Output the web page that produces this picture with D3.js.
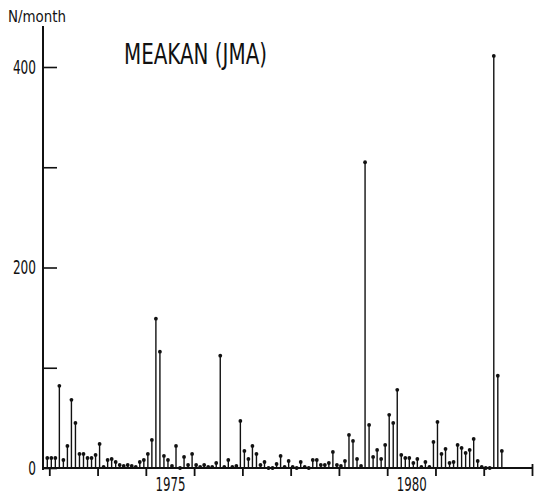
<!DOCTYPE html>
<html>
<head>
<meta charset="utf-8">
<script src="https://cdn.jsdelivr.net/npm/d3@7"></script>
<style>
  html, body { margin: 0; padding: 0; background: #fff; }
  svg { display: block; }
  text { font-family: "Liberation Sans Narrow", "DejaVu Sans Condensed", "Roboto Condensed", "Liberation Sans", sans-serif; fill: #111; }
</style>
</head>
<body>
<svg id="chart" width="539" height="495"></svg>
<script>
// ---- data (monthly counts, starting December 1972) ----
const startYear = 1972;
const startMonth = 12; // December
const counts = [
  10, 10, 10, 82, 8, 22, 68, 45, 14, 14, 10, 10,
  13, 24, 1, 8, 9, 6, 3, 2, 3, 2, 1, 6,
  8, 14, 28, 149, 116, 12, 8, 2, 22, 0, 11, 3,
  14, 3, 1, 3, 1, 1, 5, 112, 1, 8, 1, 2,
  47, 17, 9, 22, 14, 3, 6, 0, 0, 4, 12, 1,
  7, 1, 0, 6, 1, 0, 8, 8, 3, 3, 5, 16,
  3, 2, 7, 33, 27, 9, 2, 305, 43, 11, 18, 9,
  23, 53, 45, 78, 13, 10, 10, 5, 9, 1, 6, 1,
  26, 46, 14, 19, 5, 6, 23, 20, 15, 18, 29, 7,
  1, 0, 0, 411, 92, 17
];
const yearTicks = [1973, 1974, 1975, 1976, 1977, 1978, 1979, 1980, 1981, 1982, 1983];
const yearLabels = [1975, 1980];
const yTicks = [0, 100, 200, 300, 400];
const yLabels = [0, 200, 400];
const title = "MEAKAN (JMA)";
const yUnit = "N/month";

// ---- build records ----
const data = counts.map((v, i) => {
  const m = (startMonth - 1) + i;
  const yr = startYear + Math.floor(m / 12);
  const mo = m % 12;
  return { t: yr + (mo + 0.5) / 12, v };
});

const svg = d3.select("#chart");
const x = d3.scaleLinear().domain([1973, 1983]).range([49.3, 532]);
const y = d3.scaleLinear().domain([0, 400]).range([468, 67]);
const axisX = 43;

// y axis
const yAxis = d3.axisLeft(y)
  .tickValues(yTicks)
  .tickSizeInner(-14)
  .tickSizeOuter(0)
  .tickPadding(7)
  .tickFormat(d => yLabels.includes(d) ? d : "");
const gy = svg.append("g").attr("transform", `translate(${axisX},0)`).call(yAxis);
gy.select(".domain").remove();
gy.selectAll(".tick line").attr("stroke", "#111").attr("stroke-width", 1.6);
gy.selectAll(".tick text")
  .style("font-size", "19px")
  .attr("textLength", d => String(d).length * 7.7)
  .attr("lengthAdjust", "spacingAndGlyphs");
svg.append("line")
  .attr("x1", axisX).attr("x2", axisX)
  .attr("y1", y(441)).attr("y2", y(-2))
  .attr("stroke", "#111").attr("stroke-width", 2);

// x baseline and year ticks
svg.append("line")
  .attr("x1", axisX).attr("x2", x(1983))
  .attr("y1", y(0)).attr("y2", y(0))
  .attr("stroke", "#111").attr("stroke-width", 2);
const xAxis = d3.axisBottom(x).tickValues(yearTicks).tickSize(8).tickFormat("");
const gx = svg.append("g").attr("transform", `translate(0,${y(0)})`).call(xAxis);
gx.select(".domain").remove();
gx.selectAll(".tick line").attr("stroke", "#111").attr("stroke-width", 1.8);
gx.selectAll(".tick").filter(d => d === 1983).select("line").attr("y1", -4);

const xLab = d3.axisBottom(x).tickValues(yearLabels.map(d => d + 0.5)).tickSize(0).tickPadding(10)
  .tickFormat(d => String(Math.floor(d)));
const gl = svg.append("g").attr("transform", `translate(0,${y(0)})`).call(xLab);
gl.select(".domain").remove();
gl.selectAll(".tick text")
  .style("font-size", "19px")
  .attr("textLength", 30)
  .attr("lengthAdjust", "spacingAndGlyphs");

// stems
svg.append("g").selectAll("line").data(data.filter(d => d.v > 0)).join("line")
  .attr("x1", d => x(d.t)).attr("x2", d => x(d.t))
  .attr("y1", y(0)).attr("y2", d => y(d.v))
  .attr("stroke", "#111").attr("stroke-width", 1.4);
svg.append("g").selectAll("circle").data(data).join("circle")
  .attr("cx", d => x(d.t)).attr("cy", d => y(d.v))
  .attr("r", 1.9).attr("fill", "#111");

// title and unit
svg.append("text")
  .attr("x", 124).attr("y", 64)
  .style("font-size", "28px")
  .attr("textLength", 143)
  .attr("lengthAdjust", "spacingAndGlyphs")
  .text(title);
svg.append("text")
  .attr("x", 8).attr("y", 22)
  .style("font-size", "16px")
  .attr("textLength", 58)
  .attr("lengthAdjust", "spacingAndGlyphs")
  .text(yUnit);
</script>
</body>
</html>
